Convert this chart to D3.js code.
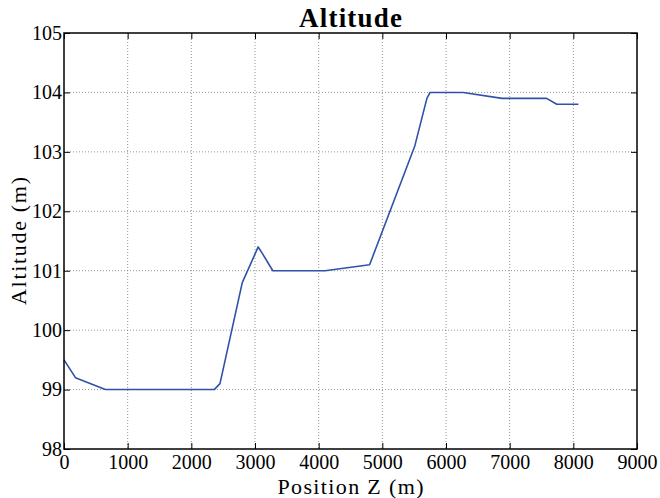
<!DOCTYPE html>
<html>
<head>
<meta charset="utf-8">
<script src="https://cdn.jsdelivr.net/npm/d3@7"></script>
<style>
  html, body { margin: 0; padding: 0; background: #fff; }
  svg text { font-family: "Liberation Serif", "DejaVu Serif", serif; fill: #000; }
</style>
</head>
<body>
<svg id="chart" width="660" height="498"></svg>
<script>
// Altitude profile along the track
const positionZ = [0, 180, 650, 2360, 2450, 2800, 3050, 3110, 3280, 4100, 4800, 5510, 5700, 5750, 6270, 6880, 7580, 7740, 8080];
const altitude  = [99.5, 99.2, 99.0, 99.0, 99.1, 100.8, 101.4, 101.3, 101.0, 101.0, 101.1, 103.1, 103.9, 104.0, 104.0, 103.9, 103.9, 103.8, 103.8];

const xTicks = [0, 1000, 2000, 3000, 4000, 5000, 6000, 7000, 8000, 9000];
const yTicks = [98, 99, 100, 101, 102, 103, 104, 105];

const titleText = "Altitude";
const xLabel = "Position Z (m)";
const yLabel = "Altitude (m)";

const serif = '"Liberation Serif", "DejaVu Serif", serif';
const svg = d3.select("#chart");
const margin = { left: 64, top: 33, right: 637, bottom: 449 };

const x = d3.scaleLinear().domain([0, 9000]).range([margin.left, margin.right]);
const y = d3.scaleLinear().domain([98, 105]).range([margin.bottom, margin.top]);

// dotted grid
const grid = svg.append("g").attr("stroke", "#777").attr("stroke-width", 0.8).attr("stroke-dasharray", "1,2");
grid.selectAll("line.gx").data(xTicks.slice(1, -1)).join("line")
  .attr("x1", d => x(d)).attr("x2", d => x(d))
  .attr("y1", margin.top).attr("y2", margin.bottom);
grid.selectAll("line.gy").data(yTicks.slice(1, -1)).join("line")
  .attr("x1", margin.left).attr("x2", margin.right)
  .attr("y1", d => y(d)).attr("y2", d => y(d));

// data line
const line = d3.line().x((d, i) => x(positionZ[i])).y(d => y(d));
svg.append("path")
  .datum(altitude)
  .attr("fill", "none")
  .attr("stroke", "#2f52a8")
  .attr("stroke-width", 1.6)
  .attr("stroke-linejoin", "round")
  .attr("d", line);

// axes with inward ticks on all four sides
const tickLen = 6;
const bottomAxis = d3.axisBottom(x).tickValues(xTicks).tickSizeInner(-tickLen).tickSizeOuter(0).tickPadding(6).tickFormat(d3.format("d"));
const topAxis = d3.axisTop(x).tickValues(xTicks).tickSizeInner(-tickLen).tickSizeOuter(0).tickFormat("");
const leftAxis = d3.axisLeft(y).tickValues(yTicks).tickSizeInner(-tickLen).tickSizeOuter(0).tickPadding(2).tickFormat(d3.format("d"));
const rightAxis = d3.axisRight(y).tickValues(yTicks).tickSizeInner(-tickLen).tickSizeOuter(0).tickFormat("");

function style(g) {
  g.attr("font-family", serif).attr("font-size", 20);
  g.select(".domain").remove();
  g.selectAll(".tick line").attr("stroke", "#000").attr("stroke-width", 1);
  g.selectAll(".tick text").style("font-family", serif).style("font-size", "20px").attr("fill", "#000");
}

svg.append("g").attr("transform", `translate(0,${margin.bottom})`).call(bottomAxis).call(style);
svg.append("g").attr("transform", `translate(0,${margin.top})`).call(topAxis).call(style);
svg.append("g").attr("transform", `translate(${margin.left},0)`).call(leftAxis).call(style);
svg.append("g").attr("transform", `translate(${margin.right},0)`).call(rightAxis).call(style);

// frame
svg.append("rect")
  .attr("x", margin.left).attr("y", margin.top)
  .attr("width", margin.right - margin.left).attr("height", margin.bottom - margin.top)
  .attr("fill", "none").attr("stroke", "#000").attr("stroke-width", 1.5);

// title and labels
svg.append("text")
  .attr("x", (margin.left + margin.right) / 2).attr("y", 27)
  .attr("text-anchor", "middle")
  .attr("textLength", 103).attr("lengthAdjust", "spacing")
  .style("font-size", "27px").style("font-weight", "bold")
  .text(titleText);

svg.append("text")
  .attr("x", (margin.left + margin.right) / 2).attr("y", 494)
  .attr("text-anchor", "middle")
  .attr("textLength", 146).attr("lengthAdjust", "spacing")
  .style("font-size", "22px")
  .text(xLabel);

svg.append("text")
  .attr("transform", `translate(26,${(margin.top + margin.bottom) / 2}) rotate(-90)`)
  .attr("text-anchor", "middle")
  .attr("textLength", 128).attr("lengthAdjust", "spacing")
  .style("font-size", "22px")
  .text(yLabel);
</script>
</body>
</html>
